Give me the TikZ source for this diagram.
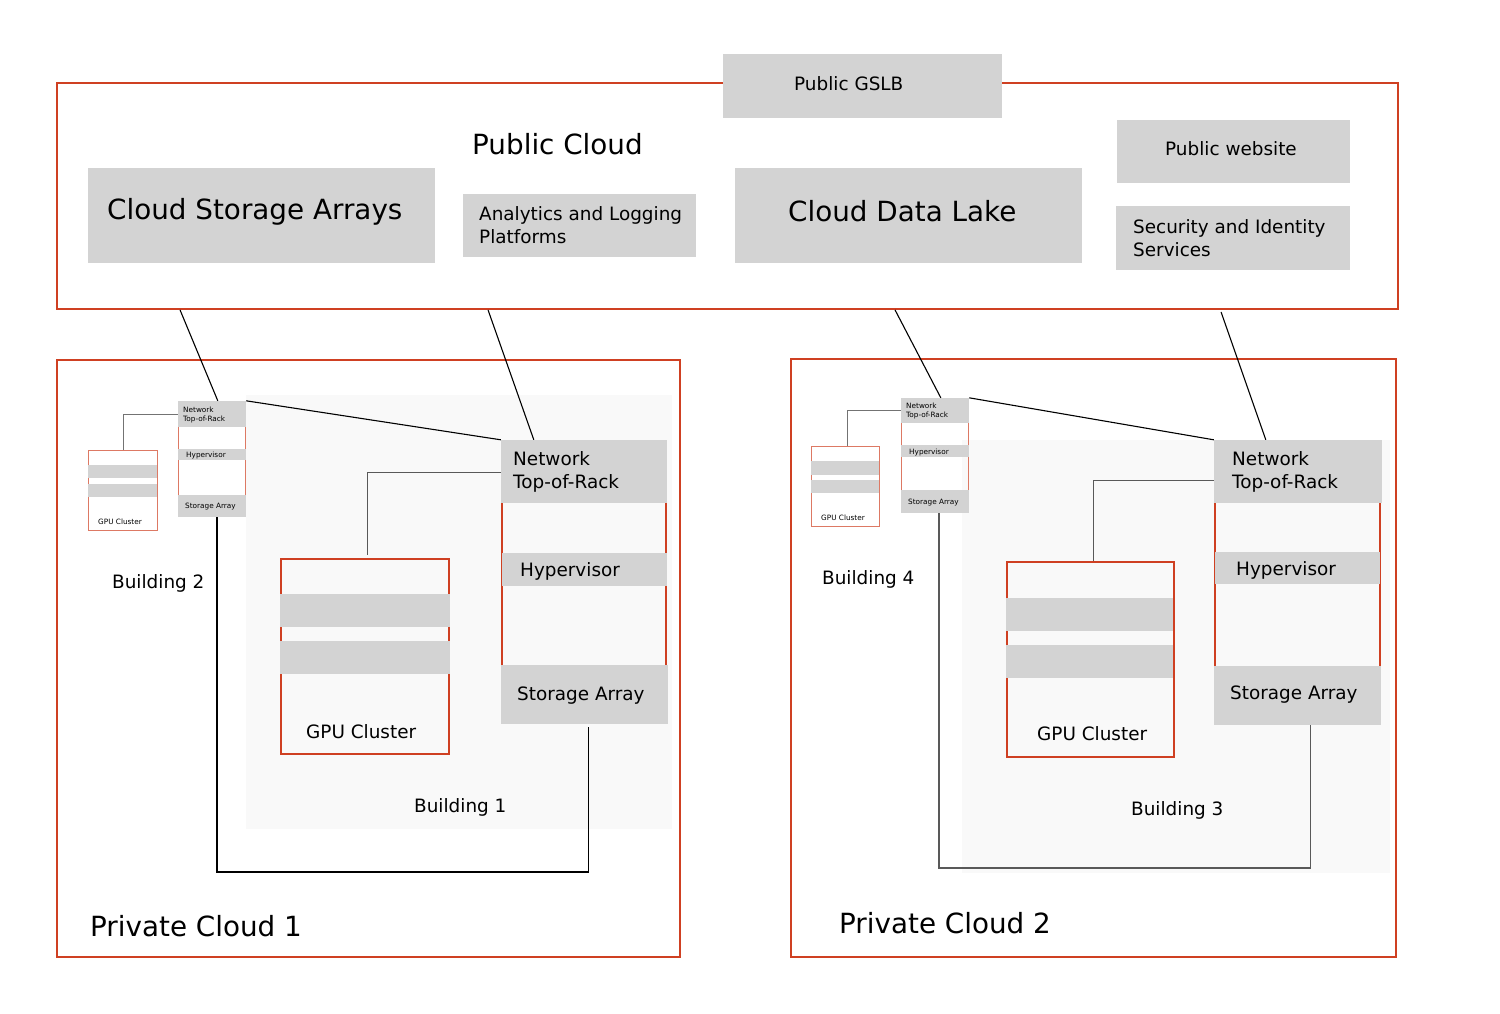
\documentclass[tikz,border=0pt]{standalone}
\usepackage{fontspec}
\setmainfont{DejaVu Sans}
\usetikzlibrary{calc,fit}
\definecolor{frame}{RGB}{207,64,34}
\definecolor{boxgray}{RGB}{211,211,211}
\definecolor{bldg}{RGB}{249,249,249}
\tikzset{
  box/.style={fill=boxgray, draw=none, inner sep=0pt},
  frm/.style={draw=frame, line width=1.9pt, inner sep=0pt},
  rack/.style={draw=frame, line width=1.3pt, inner sep=0pt},
  smallrack/.style={draw=frame!70, line width=0.8pt, inner sep=0pt},
  bg/.style={fill=bldg, draw=none, inner sep=0pt},
  big/.style={inner sep=0pt, anchor=base west, font=\fontsize{27.8}{30}\selectfont},
  med/.style={inner sep=0pt, anchor=base west, font=\fontsize{18.4}{22}\selectfont},
  tiny/.style={inner sep=0pt, anchor=base west, font=\fontsize{7.3}{9}\selectfont},
  link/.style={draw=black, line width=1.1pt},
  wire/.style={draw=black!65, line width=1.2pt},
}
\begin{document}
\begin{tikzpicture}[x=1pt,y=-1pt]
\path[fill=white] (0,0) rectangle (1500,1013);
\useasboundingbox (0,0) rectangle (1500,1013);

% building backgrounds
\node[bg, fit={(246,395) (672,829)}] (b1) {};
\node[bg, fit={(962,440) (1390,873)}] (b3) {};

% frames
\node[frm, fit={(57,83) (1398,309)}] (pub) {};
\node[frm, fit={(57,360) (680,957)}] (pc1) {};
\node[frm, fit={(791,359) (1396,957)}] (pc2) {};

% public cloud boxes
\node[box, fit={(723,54) (1002,118)}] (gslb) {};
\node[box, fit={(88,168) (435,263)}] (csa) {};
\node[box, fit={(463,194) (696,257)}] (alp) {};
\node[box, fit={(735,168) (1082,263)}] (cdl) {};
\node[box, fit={(1117,120) (1350,183)}] (web) {};
\node[box, fit={(1116,206) (1350,270)}] (sec) {};

% ---------- Private Cloud 1 ----------
% rack 1
\node[rack, fit={(502,450) (666,714)}] (rack1) {};
\node[box, fit={(501,440) (667,503)}] (tor1) {};
\node[box, fit={(502,553) (667,586)}] (hyp1) {};
\node[box, fit={(501,665) (668,724)}] (sa1) {};
% gpu 1
\node[rack, fit={(281,559) (449,754)}] (gpu1) {};
\node[box, fit={(280,594) (450,627)}] (gpu1a) {};
\node[box, fit={(280,641) (450,674)}] (gpu1b) {};
% rack 2 (small)
\node[smallrack, fit={(178.5,408) (245.5,510)}] (rack2) {};
\node[box, fit={(178,401) (246,427)}] (tor2) {};
\node[box, fit={(178,449) (246,460)}] (hyp2) {};
\node[box, fit={(178,495) (246,517)}] (sa2) {};
\node[smallrack, fit={(88,450) (157,530)}] (gpu2) {};
\node[box, fit={(88,465) (157,478)}] (gpu2a) {};
\node[box, fit={(88,484) (157,497)}] (gpu2b) {};

% ---------- Private Cloud 2 ----------
\node[rack, fit={(1215,450) (1380,715)}] (rack3) {};
\node[box, fit={(1214,440) (1382,503)}] (tor3) {};
\node[box, fit={(1215,552) (1380,584)}] (hyp3) {};
\node[box, fit={(1214,666) (1381,725)}] (sa3) {};
\node[rack, fit={(1007,562) (1174,757)}] (gpu3) {};
\node[box, fit={(1006,598) (1173,631)}] (gpu3a) {};
\node[box, fit={(1006,645) (1173,678)}] (gpu3b) {};
\node[smallrack, fit={(901.5,405) (968.5,506)}] (rack4) {};
\node[box, fit={(901,398) (969,423)}] (tor4) {};
\node[box, fit={(901,445) (969,457)}] (hyp4) {};
\node[box, fit={(901,490) (969,513)}] (sa4) {};
\node[smallrack, fit={(811,446) (879,526)}] (gpu4) {};
\node[box, fit={(811,461) (879,475)}] (gpu4a) {};
\node[box, fit={(811,480) (879,493)}] (gpu4b) {};

% ---------- connectors ----------
% public cloud to racks
\draw[link] ($(pub.south west)+(124,0)$) -- ($(tor2.north west)+(40,0)$);
\draw[link] ($(pub.south west)+(432,0)$) -- ($(tor1.north west)+(33,0)$);
\draw[link] ($(pub.south west)+(839,0)$) -- ($(tor4.north west)+(40,0)$);
\draw[link] ($(pub.south west)+(1165,2)$) -- ($(tor3.north west)+(52,0)$);
% small tor to big tor
\draw[link] (tor2.north east) -- (tor1.north west);
\draw[link] (tor4.north east) -- (tor3.north west);
% tor to gpu
\draw[wire, line width=0.9pt] ($(tor1.west)+(0,0.5)$) -| ($(gpu1.north west)+(87,-3)$);
\draw[wire, line width=0.9pt] ($(tor3.west)+(0,8.5)$) -| ($(gpu3.north west)+(87,0)$);
\draw[wire, draw=black!55, line width=0.7pt] ($(tor2.west)+(0,0)$) -| (gpu2.north -| 123,0);
\draw[wire, draw=black!55, line width=0.7pt] ($(tor4.west)+(0,0)$) -| (gpu4.north -| 847,0);
% storage to storage
\draw[wire, draw=black] ($(sa1.south west)+(88,3)$) |- (217,872) -- (sa2.south -| 217,0);
\draw[wire] ($(sa3.south west)+(97,0)$) |- (939,868) -- (sa4.south -| 939,0);

% ---------- texts ----------
\node[med] (tgslb) at (794,90) {Public GSLB};
\node[big] (tpub) at (472,154) {Public Cloud};
\node[big] (tcsa) at (107,219) {Cloud Storage Arrays};
\node[med] (talp1) at (479,220) {Analytics and Logging};
\node[med] (talp2) at (479,243) {Platforms};
\node[big] (tcdl) at (788,221) {Cloud Data Lake};
\node[med] (tweb) at (1165,155) {Public website};
\node[med] (tsec1) at (1133,233) {Security and Identity};
\node[med] (tsec2) at (1133,256) {Services};

\node[med] (ttor1a) at (513,465) {Network};
\node[med] (ttor1b) at (513,488) {Top-of-Rack};
\node[med] (thyp1) at (520,576) {Hypervisor};
\node[med] (tsa1) at (517,700) {Storage Array};
\node[med] (tgpu1) at (306,738) {GPU Cluster};
\node[med] (tb1) at (414,812) {Building 1};
\node[med] (tb2) at (112,588) {Building 2};
\node[big] (tpc1) at (90,936) {Private Cloud 1};
\node[tiny] (ttor2a) at (183,412) {Network};
\node[tiny] (ttor2b) at (183,421) {Top-of-Rack};
\node[tiny] (thyp2) at (186,457) {Hypervisor};
\node[tiny] (tsa2) at (185,508) {Storage Array};
\node[tiny] (tgpu2) at (98,524) {GPU Cluster};

\node[med] (ttor3a) at (1232,465) {Network};
\node[med] (ttor3b) at (1232,488) {Top-of-Rack};
\node[med] (thyp3) at (1236,575) {Hypervisor};
\node[med] (tsa3) at (1230,699) {Storage Array};
\node[med] (tgpu3) at (1037,740) {GPU Cluster};
\node[med] (tb3) at (1131,815) {Building 3};
\node[med] (tb4) at (822,584) {Building 4};
\node[big] (tpc2) at (839,933) {Private Cloud 2};
\node[tiny] (ttor4a) at (906,408) {Network};
\node[tiny] (ttor4b) at (906,417) {Top-of-Rack};
\node[tiny] (thyp4) at (909,454) {Hypervisor};
\node[tiny] (tsa4) at (908,504) {Storage Array};
\node[tiny] (tgpu4) at (821,520) {GPU Cluster};
\end{tikzpicture}
\end{document}
